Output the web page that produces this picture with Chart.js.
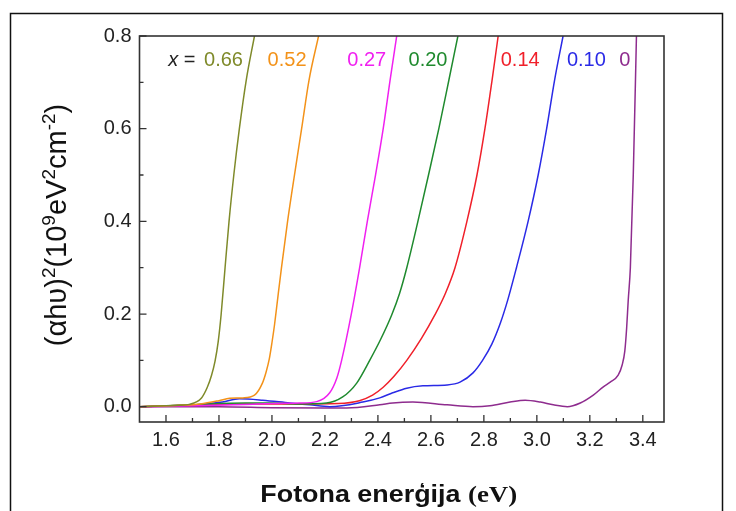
<!DOCTYPE html>
<html><head><meta charset="utf-8">
<script src="https://cdn.jsdelivr.net/npm/chart.js@4/dist/chart.umd.min.js"></script>
<style>html,body{margin:0;padding:0;background:#fff;}#wrap{position:relative;width:736px;height:511px;}canvas{display:block;}</style>
</head><body><div id="wrap"><canvas id="c" width="736" height="511"></canvas></div>
<script>
// ---- data (photon energy in eV, (αhν)^2 in 10^9 eV^2 cm^-2) ----
const seriesNames = ['0.66','0.52','0.27','0.20','0.14','0.10','0'];
const seriesColors = ['#7f8a2a','#f39219','#f020f0','#1f8a2e','#f0202a','#2a2ae6','#8e2c8e'];

const energy066 = [1.50,1.60,1.65,1.688,1.734,1.756,1.772,1.785,1.797,1.808,1.823,1.838,1.856,1.877,1.903,1.934];
const absorb066 = [0.000,0.002,0.003,0.005,0.019,0.042,0.068,0.098,0.140,0.198,0.300,0.400,0.500,0.600,0.705,0.800];

const energy052 = [1.50,1.65,1.73,1.80,1.84,1.89,1.934,1.964,1.978,1.990,2.000,2.010,2.022,2.036,2.059,2.085,2.112,2.140,2.176];
const absorb052 = [0.000,0.003,0.006,0.013,0.018,0.019,0.025,0.051,0.075,0.103,0.138,0.178,0.235,0.300,0.400,0.500,0.600,0.705,0.800];

const energy027 = [1.50,1.70,1.90,2.00,2.104,2.169,2.218,2.245,2.263,2.299,2.331,2.360,2.391,2.420,2.446,2.471];
const absorb027 = [0.000,0.002,0.005,0.007,0.008,0.011,0.030,0.062,0.100,0.198,0.300,0.400,0.500,0.600,0.705,0.800];

const energy020 = [1.50,1.70,1.90,2.00,2.10,2.206,2.267,2.320,2.369,2.410,2.452,2.482,2.509,2.551,2.591,2.630,2.668,2.702];
const absorb020 = [0.000,0.004,0.008,0.008,0.006,0.008,0.021,0.051,0.100,0.145,0.198,0.245,0.300,0.400,0.500,0.600,0.705,0.800];

const energy014 = [1.50,1.70,1.90,2.10,2.25,2.33,2.38,2.42,2.46,2.509,2.565,2.615,2.655,2.691,2.736,2.774,2.804,2.831,2.854];
const absorb014 = [0.000,0.003,0.006,0.006,0.007,0.013,0.025,0.042,0.065,0.100,0.148,0.198,0.245,0.300,0.400,0.500,0.600,0.705,0.800];

const energy010 = [1.50,1.60,1.715,1.813,1.877,1.965,2.067,2.143,2.218,2.343,2.407,2.456,2.509,2.570,2.661,2.710,2.759,2.795,2.830,2.862,2.890,2.923,2.967,3.005,3.037,3.067,3.099];
const absorb010 = [0.000,0.002,0.004,0.010,0.017,0.014,0.008,0.004,0.000,0.010,0.019,0.030,0.040,0.045,0.047,0.053,0.073,0.100,0.135,0.180,0.230,0.300,0.400,0.500,0.600,0.705,0.800];

const energy000 = [1.50,1.80,2.00,2.20,2.282,2.407,2.456,2.532,2.661,2.759,2.823,2.899,2.956,3.013,3.062,3.115,3.164,3.213,3.251,3.277,3.307,3.322,3.332,3.339,3.345,3.353,3.364,3.376];
const absorb000 = [0.000,0.000,-0.002,-0.003,-0.003,0.004,0.008,0.010,0.004,0.000,0.002,0.010,0.014,0.010,0.004,0.000,0.008,0.025,0.043,0.053,0.068,0.090,0.120,0.170,0.230,0.300,0.500,0.800];

const seriesEnergy = [energy066,energy052,energy027,energy020,energy014,energy010,energy000];
const seriesAbsorb = [absorb066,absorb052,absorb027,absorb020,absorb014,absorb010,absorb000];

const xTickValues = [1.6,1.8,2.0,2.2,2.4,2.6,2.8,3.0,3.2,3.4];
const xMinorValues = [1.7,1.9,2.1,2.3,2.5,2.7,2.9,3.1,3.3];
const yTickValues = [0.0,0.2,0.4,0.6,0.8];
const yMinorValues = [0.1,0.3,0.5,0.7];

// label anchors (eV) for the "x = ..." composition labels
const labelEnergy = [1.817,2.057,2.358,2.589,2.937,3.187,3.332];
const labelPrefixEnergy = 1.66;
const labelLevel = 0.748;

const xTitleMain = 'Fotona enerģija ';
const xTitleUnit = '(eV)';
const yTitleParts = [['(αhυ)',0],['2',1],['(10',0],['9',1],['eV',0],['2',1],['cm',0],['-2',1],[')',0]];

const SANS = '"Liberation Sans", Arial, sans-serif';
const SERIF = '"Liberation Serif", "Times New Roman", serif';

const datasets = seriesNames.map((n,i)=>({
  label: 'x = '+n,
  data: seriesEnergy[i].map((e,k)=>({x:e,y:seriesAbsorb[i][k]})),
  borderColor: seriesColors[i],
  backgroundColor: seriesColors[i],
  borderWidth: 1.5,
  pointRadius: 0,
  showLine: true,
  cubicInterpolationMode: 'monotone',
  fill: false
}));

const decor = {
  id: 'decor',
  beforeDraw(chart){
    const ctx = chart.ctx;
    ctx.save();
    ctx.fillStyle = '#fff';
    ctx.fillRect(0,0,chart.width,chart.height);
    ctx.strokeStyle = '#111';
    ctx.lineWidth = 1.5;
    ctx.strokeRect(10.5,13.5,712,600);
    ctx.restore();
  },
  afterDraw(chart){
    const ctx = chart.ctx, a = chart.chartArea;
    const xs = chart.scales.x, ys = chart.scales.y;
    ctx.save();
    // plot frame
    ctx.strokeStyle = '#333';
    ctx.lineWidth = 1.6;
    ctx.strokeRect(a.left, a.top, a.right-a.left, a.bottom-a.top);
    // inward ticks
    ctx.lineWidth = 1.3;
    ctx.beginPath();
    xTickValues.forEach(v=>{const p=xs.getPixelForValue(v); ctx.moveTo(p,a.bottom); ctx.lineTo(p,a.bottom-7);});
    xMinorValues.forEach(v=>{const p=xs.getPixelForValue(v); ctx.moveTo(p,a.bottom); ctx.lineTo(p,a.bottom-4);});
    yTickValues.forEach(v=>{const p=ys.getPixelForValue(v); ctx.moveTo(a.left,p); ctx.lineTo(a.left+7,p);});
    yMinorValues.forEach(v=>{const p=ys.getPixelForValue(v); ctx.moveTo(a.left,p); ctx.lineTo(a.left+4,p);});
    ctx.stroke();
    // composition labels
    const ly = ys.getPixelForValue(labelLevel);
    ctx.textBaseline = 'middle';
    ctx.textAlign = 'left';
    ctx.font = 'italic 20px '+SANS;
    const px = xs.getPixelForValue(labelPrefixEnergy);
    const w1 = ctx.measureText('x').width;
    ctx.font = '20px '+SANS;
    const w2 = ctx.measureText(' =').width;
    let sx = px-(w1+w2)/2;
    ctx.fillStyle = '#222';
    ctx.font = 'italic 20px '+SANS; ctx.fillText('x',sx,ly);
    ctx.font = '20px '+SANS; ctx.fillText(' =',sx+w1,ly);
    ctx.textAlign = 'center';
    labelEnergy.forEach((e,i)=>{
      ctx.fillStyle = seriesColors[i];
      ctx.fillText(seriesNames[i], xs.getPixelForValue(e), ly);
    });
    // x title (slightly widened like the reference)
    ctx.fillStyle = '#111';
    ctx.textBaseline = 'alphabetic';
    ctx.textAlign = 'left';
    ctx.font = 'bold 24px '+SANS;
    const m1 = ctx.measureText(xTitleMain).width;
    ctx.font = 'bold 24px '+SERIF;
    const m2 = ctx.measureText(xTitleUnit).width;
    const sxScale = 1.12;
    const cx = (a.left+a.right)/2 - 13;
    ctx.save();
    ctx.translate(cx, 502);
    ctx.scale(sxScale, 1);
    let tx = -(m1+m2)/2;
    ctx.font = 'bold 24px '+SANS; ctx.fillText(xTitleMain, tx, 0);
    ctx.font = 'bold 24px '+SERIF; ctx.fillText(xTitleUnit, tx+m1, 0);
    ctx.restore();
    // y title
    const big = '29px '+SANS, small = '19px '+SANS;
    let total = 0;
    yTitleParts.forEach(([t,s])=>{ctx.font = s?small:big; total += ctx.measureText(t).width;});
    ctx.translate(66, (a.top+a.bottom)/2 - 4);
    ctx.rotate(-Math.PI/2);
    let ox = -total/2;
    yTitleParts.forEach(([t,s])=>{
      ctx.font = s?small:big;
      ctx.fillText(t, ox, s?-11:0);
      ox += ctx.measureText(t).width;
    });
    ctx.restore();
  }
};

new Chart(document.getElementById('c'), {
  type: 'scatter',
  data: {datasets},
  plugins: [decor],
  options: {
    responsive: false,
    devicePixelRatio: 1,
    animation: false,
    layout: {padding: {left: 0, top: 36, right: 72, bottom: 0}},
    plugins: {legend: {display: false}, tooltip: {enabled: false}},
    scales: {
      x: {
        type: 'linear', min: 1.5, max: 3.48,
        grid: {display: false, drawTicks: false},
        border: {display: false},
        afterBuildTicks: s => { s.ticks = xTickValues.map(v=>({value:v})); },
        afterFit: s => { s.height = 89; },
        ticks: {padding: 6, color: '#222', font: {family: SANS, size: 20}, callback: v => Number(v).toFixed(1), maxRotation: 0, autoSkip: false}
      },
      y: {
        type: 'linear', min: -0.033, max: 0.8,
        grid: {display: false, drawTicks: false},
        border: {display: false},
        afterBuildTicks: s => { s.ticks = yTickValues.map(v=>({value:v})); },
        afterFit: s => { s.width = 139.5; },
        ticks: {padding: 8, color: '#222', font: {family: SANS, size: 20}, callback: v => Number(v).toFixed(1), autoSkip: false}
      }
    }
  }
});
</script></body></html>
